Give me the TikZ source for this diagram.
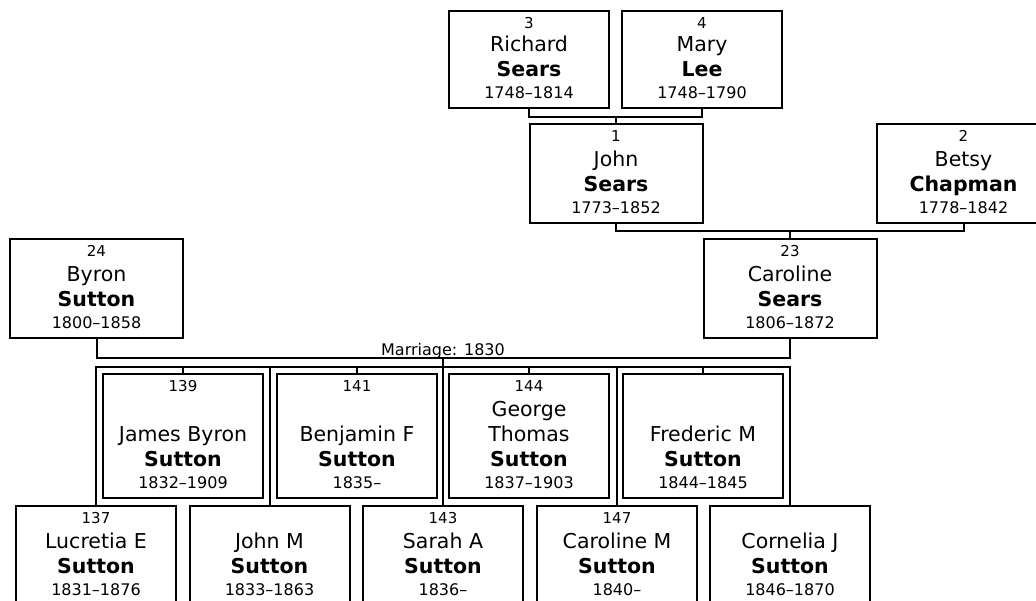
\documentclass[tikz,border=0pt]{standalone}
\usepackage{fontspec}
\setmainfont{DejaVu Sans}
\tikzset{
  pbox/.style={draw=black, line width=2pt, rectangle, inner sep=0pt, outer sep=0pt},
  link/.style={draw=black, line width=2pt},
  numtxt/.style={anchor=base, inner sep=0pt, font=\fontsize{15}{18}\selectfont},
  nametxt/.style={anchor=base, inner sep=0pt, font=\fontsize{20.5}{24}\selectfont},
  surtxt/.style={anchor=base, inner sep=0pt, font=\fontsize{20.5}{24}\selectfont\bfseries},
  datetxt/.style={anchor=base, inner sep=0pt, font=\fontsize{16}{19}\selectfont},
}
% #1 name, #2 cx, #3 top, #4 bottom, #5 width, #6 number, #7 first name, #8 surname, #9 dates
\newcommand\pbox[9]{%
  \node[pbox, minimum width=#5pt, minimum height={(#4-#3)*1pt}] (#1) at (#2,{(#3+#4)/2}) {};
  \if\relax\detokenize{#6}\relax\else
    \node[numtxt] (#1-n) at (#2,{#3+17.5}) {#6};
  \fi
  \node[nametxt] (#1-f) at (#2,{#4-56.3}) {#7};
  \node[surtxt] (#1-s) at (#2,{#4-31.3}) {#8};
  \node[datetxt] (#1-d) at (#2,{#4-10}) {#9};
}
\begin{document}
\begin{tikzpicture}[x=1pt,y=-1pt]
\useasboundingbox (0,0) rectangle (1036,600);
\clip (0,0) rectangle (1036,600);
\fill[white] (0,0) rectangle (1036,600);

% grandparents
\pbox{richard}{529}{11}{108}{160}{3}{Richard}{Sears}{1748–1814}
\pbox{mary}{702}{11}{108}{160}{4}{Mary}{Lee}{1748–1790}
% parents of Caroline
\pbox{john}{616}{124}{223}{173}{1}{John}{Sears}{1773–1852}
\pbox{betsy}{963.5}{124}{223}{173}{2}{Betsy}{Chapman}{1778–1842}
% couple
\pbox{byron}{96.5}{239}{338}{173}{24}{Byron}{Sutton}{1800–1858}
\pbox{caroline}{790}{239}{338}{173}{23}{Caroline}{Sears}{1806–1872}
% children, upper row
\pbox{c139}{183}{374}{498}{160}{139}{James Byron}{Sutton}{1832–1909}
\pbox{c141}{357}{374}{498}{160}{141}{Benjamin F}{Sutton}{1835–}
\pbox{c144}{529}{374}{498}{160}{144}{Thomas}{Sutton}{1837–1903}
\node[nametxt] (c144-g) at (529,{498-81.3}) {George};
\pbox{c145}{703}{374}{498}{160}{}{Frederic M}{Sutton}{1844–1845}
% children, lower row
\pbox{c137}{96}{506}{605}{160}{137}{Lucretia E}{Sutton}{1831–1876}
\pbox{c140}{269.5}{506}{605}{160}{}{John M}{Sutton}{1833–1863}
\pbox{c143}{443}{506}{605}{160}{143}{Sarah A}{Sutton}{1836–}
\pbox{c147}{617}{506}{605}{160}{147}{Caroline M}{Sutton}{1840–}
\pbox{c148}{790}{506}{605}{160}{}{Cornelia J}{Sutton}{1846–1870}

% connectors
\coordinate (pm1) at (616,117);
\draw[link] (richard.south) |- (pm1) -| (mary.south);
\draw[link] (pm1) -- (john.north);

\coordinate (pm2) at (790,231);
\draw[link] (john.south) |- (pm2) -| (betsy.south);
\draw[link] (pm2) -- (caroline.north);

\coordinate (pm3) at (443,358);
\draw[link] (byron.south) |- (pm3) -| (caroline.south);
\node[datetxt] (marr) at (443,355) {Marriage: 1830};

\coordinate (bus) at (443,367);
\draw[link] (pm3) -- (c143.north);
\draw[link] (c137.north) |- (bus) -| (c148.north);
\draw[link] (c140.north) -- (c140.north |- bus);
\draw[link] (c147.north) -- (c147.north |- bus);
\draw[link] (c139.north) -- (c139.north |- bus);
\draw[link] (c141.north) -- (c141.north |- bus);
\draw[link] (c144.north) -- (c144.north |- bus);
\draw[link] (c145.north) -- (c145.north |- bus);
\end{tikzpicture}
\end{document}
